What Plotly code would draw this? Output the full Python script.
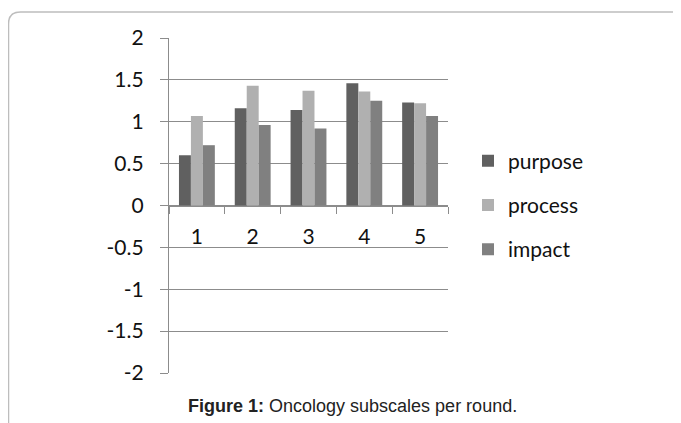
import plotly.graph_objects as go

categories = ["1", "2", "3", "4", "5"]
purpose = [0.60, 1.16, 1.14, 1.46, 1.23]
process = [1.07, 1.43, 1.37, 1.36, 1.22]
impact = [0.72, 0.96, 0.92, 1.25, 1.07]
series_names = ["purpose", "process", "impact"]
series_colors = ["#606060", "#b0b0b0", "#808080"]
y_tick_vals = [2, 1.5, 1, 0.5, 0, -0.5, -1, -1.5, -2]
y_tick_text = ["2", "1.5", "1", "0.5", "0", "-0.5", "-1", "-1.5", "-2"]
caption_bold = "Figure 1:"
caption_rest = " Oncology subscales per round."

W, H = 681, 423
OFF = 8  # page body margin
ml, mt = 169 - OFF, 38 - OFF
pw, ph = 279, 335
mr = W - ml - pw
mb = H - mt - ph

def px_x(p):
    return (p - OFF - ml) / pw

def px_y(p):
    return (mt + ph - (p - OFF)) / ph

fig = go.Figure()
for name, vals, col in zip(series_names, [purpose, process, impact], series_colors):
    fig.add_trace(go.Bar(x=categories, y=vals, name=name, marker_color=col,
                         marker_line_width=0, legendgroup=name))

font_main = "Lato, 'Open Sans', sans-serif"
grid_col = "#8c8c8c"
FS = 21

# frame (rounded top-left corner)
x0, yt, xr, yb = px_x(8.5), px_y(12), px_x(720), px_y(460)
rx, ry = 12 / pw, 12 / ph
frame_path = (f"M {x0},{yb} L {x0},{yt - ry} Q {x0},{yt} {x0 + rx},{yt} L {xr},{yt}")

fig.update_layout(
    width=W, height=H,
    margin=dict(l=ml, r=mr, t=mt, b=mb, pad=0),
    paper_bgcolor="white", plot_bgcolor="white",
    barmode="group", bargap=0.357, bargroupgap=0,
    font=dict(family=font_main, size=FS, color="#111"),
    showlegend=True,
    legend=dict(x=px_x(468), y=px_y(205), xanchor="left", yanchor="middle",
                font=dict(size=FS, family=font_main, color="#111"),
                tracegroupgap=14, itemwidth=30, bgcolor="rgba(0,0,0,0)"),
    xaxis=dict(type="category", anchor="free", position=0.5,
               showline=True, linecolor=grid_col, linewidth=1.3,
               ticks="outside", ticklen=7, tickcolor=grid_col, tickwidth=1.3,
               tickson="boundaries", showgrid=False, zeroline=False,
               ticklabelstandoff=12, tickfont=dict(size=FS, family=font_main)),
    yaxis=dict(range=[-2, 2], tickmode="array", tickvals=y_tick_vals, ticktext=y_tick_text,
               showline=True, linecolor=grid_col, linewidth=1.3,
               ticks="outside", ticklen=8, tickcolor=grid_col, tickwidth=1.3,
               showgrid=True, gridcolor=grid_col, gridwidth=1.3,
               zeroline=True, zerolinecolor=grid_col, zerolinewidth=1.3,
               ticklabelstandoff=12, tickfont=dict(size=FS, family=font_main)),
    shapes=[dict(type="path", xref="paper", yref="paper", path=frame_path,
                 line=dict(color="#bdbdbd", width=1.5), layer="below")],
    annotations=[dict(xref="paper", yref="paper", x=px_x(352), y=px_y(406),
                      xanchor="center", yanchor="middle", showarrow=False,
                      text=f"<b>{caption_bold}</b>{caption_rest}",
                      font=dict(family="Liberation Sans, Arial, sans-serif", size=18, color="#222"))],
)

fig.write_html("out.html")
